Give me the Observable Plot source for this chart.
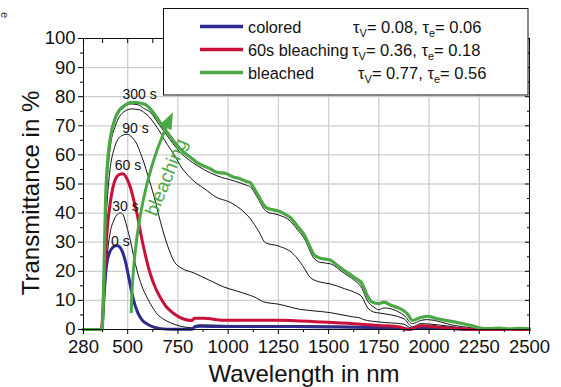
<!DOCTYPE html>
<html>
<head>
<meta charset="utf-8">
<script src="https://cdn.jsdelivr.net/npm/d3@7"></script>
<script src="https://cdn.jsdelivr.net/npm/@observablehq/plot@0.6"></script>
<style>
  html, body { margin: 0; padding: 0; background: #fff; }
  #chart { width: 561px; height: 387px; overflow: hidden; }
  svg { font-family: "Liberation Sans", Arial, sans-serif; }
</style>
</head>
<body>
<div id="chart"></div>
<script>
// ---------- data (wavelength in nm, transmittance in %) ----------
const blueWl = [280, 370, 376, 382, 390, 398, 410, 425, 444, 460, 475, 490, 505, 520, 535, 550, 570, 597, 630, 663, 720, 820, 832, 860, 1000, 1250, 1500, 1750, 1880, 1900, 1960, 2100, 2200, 2500];
const blueT  = [0, 0, 4, 11, 19, 23.5, 26.5, 28.2, 28.9, 28.4, 26.5, 23, 18, 12.8, 8.7, 5.8, 3.4, 1.9, 0.8, 0.3, 0.1, 0.1, 0.8, 1.1, 1.0, 1.0, 0.9, 0.6, 0.2, 0.1, 0.7, 0.4, 0, 0];

const b30Wl = [280, 370, 376, 382, 390, 400, 414, 430, 445, 464, 480, 495, 514, 530, 547, 570, 597, 620, 647, 680, 713, 760, 820, 832, 860, 1000, 1250, 1500, 1700, 1750, 1880, 1910, 1960, 2100, 2200, 2500];
const b30T  = [0, 0, 5, 12, 20, 27, 33.8, 37.3, 39.3, 40.1, 39, 35.5, 30.4, 25, 20.1, 15, 10.9, 8, 5.3, 3.5, 2.3, 1.2, 0.6, 1.3, 1.6, 1.4, 1.3, 1.2, 1.0, 0.9, 0.5, 0, 1.5, 0.6, 0, 0];

const redWl = [280, 370, 376, 382, 390, 400, 414, 439, 460, 476, 495, 514, 530, 547, 565, 580, 597, 613, 640, 663, 690, 713, 745, 778, 820, 832, 878, 978, 1250, 1458, 1625, 1750, 1860, 1900, 1960, 2100, 2250, 2500];
const redT  = [0, 0, 6, 15, 26, 36, 44, 51.7, 53.3, 53.5, 52, 48.7, 44.5, 39.6, 33, 28, 23, 19, 14, 10.9, 8, 6.4, 4.7, 3.6, 3.1, 3.9, 3.9, 3.2, 3.2, 2.6, 2.0, 1.4, 0.8, 0, 1.3, 0.4, 0, 0];

const b90Wl = [280, 370, 376, 382, 390, 400, 414, 430, 447, 470, 497, 515, 530, 547, 564, 580, 600, 630, 663, 700, 730, 770, 828, 862, 920, 978, 1040, 1094, 1130, 1177, 1250, 1360, 1458, 1508, 1625, 1650, 1675, 1750, 1875, 1917, 1958, 2125, 2220, 2500];
const b90T  = [0, 0, 5, 16, 34, 46, 56, 61.5, 64.8, 66.6, 67.1, 66.5, 65.4, 63.5, 60.5, 57.5, 53, 46, 37, 28.5, 23.5, 21, 19.5, 18.4, 16.5, 14.6, 13.3, 12.1, 11.2, 9.5, 8.7, 6.9, 6.2, 5.8, 4.3, 4.1, 3.4, 2.6, 1.8, 0.3, 1.4, 0.6, 0, 0];

const bMidWl = [280, 372, 377, 382, 390, 398, 414, 439, 481, 520, 558, 585, 608, 635, 657, 680, 697, 730, 770, 800, 829, 880, 945, 1000, 1060, 1111, 1150, 1186, 1250, 1327, 1370, 1410, 1458, 1508, 1580, 1625, 1667, 1692, 1725, 1750, 1875, 1917, 1958, 2125, 2220, 2500];
const bMidT  = [0, 0, 5, 18, 40, 51, 63, 70, 74.8, 75.8, 75.5, 74.4, 73, 70.5, 68.3, 65.5, 63.6, 60.2, 55.5, 53, 51, 48.5, 45.3, 44, 41.5, 38, 34, 29.8, 28.7, 25.8, 22, 17.8, 16.3, 15.7, 14, 12.9, 11.1, 7.7, 6, 5.7, 3.7, 0.9, 2, 0.9, 0, 0];

const b300Wl = [280, 372, 377, 382, 390, 398, 414, 439, 481, 514, 547, 580, 613, 657, 707, 757, 823, 878, 945, 1028, 1090, 1111, 1129, 1150, 1175, 1194, 1250, 1310, 1345, 1377, 1426, 1458, 1508, 1580, 1625, 1667, 1692, 1725, 1750, 1775, 1875, 1917, 1958, 1992, 2125, 2208, 2260, 2500];
const b300T  = [0, 0, 5.5, 19, 44, 55, 65.5, 72.3, 76.3, 77.5, 77.3, 76, 74.6, 70.4, 65.6, 61.2, 57.4, 55, 52.8, 51.1, 49.6, 49, 47.3, 44.8, 41.8, 40.4, 39.4, 37.2, 34.3, 31.5, 24.6, 23.1, 22.6, 19.2, 17.1, 14, 10, 7.7, 6.8, 7.4, 4.9, 2, 3.1, 3.4, 1.4, 0.6, 0, 0];

const greenWl = [280, 372, 377, 382, 390, 398, 414, 439, 460, 481, 514, 547, 572, 591, 613, 635, 657, 680, 707, 730, 757, 790, 823, 850, 878, 906, 945, 988, 1028, 1055, 1090, 1111, 1129, 1150, 1175, 1194, 1220, 1250, 1280, 1310, 1345, 1377, 1400, 1426, 1458, 1508, 1533, 1580, 1625, 1667, 1692, 1717, 1750, 1775, 1810, 1858, 1892, 1917, 1958, 1992, 2042, 2125, 2208, 2256, 2300, 2350, 2400, 2450, 2500];
const greenT  = [0, 0, 6, 20, 45, 56, 66, 72.8, 75.5, 76.8, 78, 78, 77.6, 77.2, 75.8, 73.8, 71.6, 69.3, 66.8, 64.6, 62.4, 60.3, 58.6, 57.2, 56.2, 55.4, 54, 53.6, 52.3, 51.9, 50.9, 50.4, 48.5, 46, 43, 41.7, 41.2, 40.7, 39.7, 38.4, 35.5, 32.7, 29.5, 25.8, 24.5, 23.9, 22.6, 20.2, 18, 15.7, 11.7, 9.4, 8.9, 9.4, 8.3, 7.1, 5.4, 3.1, 4.1, 4.5, 3.7, 2.6, 1.4, 0.5, 0.3, 0.5, 0.2, 0.4, 0.3];

const xTicks = [280, 500, 750, 1000, 1250, 1500, 1750, 2000, 2250, 2500];
const xMinor = [375, 625, 875, 1125, 1375, 1625, 1875, 2125, 2375];
const xGrid = [500, 750, 1000, 1250, 1500, 1750, 2000, 2250];
const yTicks = [0, 10, 20, 30, 40, 50, 60, 70, 80, 90, 100];
const yMinor = [5, 15, 25, 35, 45, 55, 65, 75, 85, 95];
const yGrid = [10, 20, 30, 40, 50, 60, 70, 80, 90];

const timeLabels = ["300 s", "90 s", "60 s", "30 s", "0 s"];
const timeLabelWl = [559, 539, 501, 489, 464];
const timeLabelT  = [80.9, 69.2, 56.5, 42.2, 30.4];

const legendNames = ["colored", "60s bleaching", "bleached"];
const legendTauV = ["0.08", "0.36", "0.77"];
const legendTauE = ["0.06", "0.18", "0.56"];

const BLUE = "#2e2a8e", RED = "#c8103a", GREEN = "#4ca846", GRID = "#cfcfcf";
const FONT = "'Liberation Sans', Arial, sans-serif";

const series = (wl, t) => wl.map((w, i) => ({w, t: t[i]}));
const lineOpts = (stroke, strokeWidth) => ({x: "w", y: "t", stroke, strokeWidth, curve: "monotone-x"});

const plot = Plot.plot({
  width: 561,
  height: 387,
  marginLeft: 83,
  marginRight: 32,
  marginTop: 38,
  marginBottom: 58,
  style: {fontFamily: FONT, background: "white", overflow: "visible"},
  x: {domain: [280, 2500], label: null},
  y: {domain: [0, 100], label: null},
  marks: [
    Plot.gridX(xGrid, {stroke: GRID, strokeOpacity: 1, strokeWidth: 1.3}),
    Plot.gridY(yGrid, {stroke: GRID, strokeOpacity: 1, strokeWidth: 1.3}),
    Plot.line(series(b30Wl, b30T), lineOpts("#111", 1)),
    Plot.line(series(b90Wl, b90T), lineOpts("#111", 1)),
    Plot.line(series(bMidWl, bMidT), lineOpts("#111", 1)),
    Plot.line(series(b300Wl, b300T), lineOpts("#111", 1)),
    Plot.line(series(blueWl, blueT), lineOpts(BLUE, 3)),
    Plot.line(series(redWl, redT), lineOpts(RED, 3)),
    Plot.line(series(greenWl, greenT), lineOpts(GREEN, 3.2)),
    Plot.text(timeLabels, {x: (d, i) => timeLabelWl[i], y: (d, i) => timeLabelT[i], text: d => d,
      fontSize: 14, fill: "#111", textAnchor: "middle", lineAnchor: "middle"}),
    Plot.frame({stroke: "#111", strokeWidth: 1}),
    Plot.axisX(xTicks, {tickSize: 5, tickPadding: 5, fontSize: 18.5, label: null, fill: "#111", tickFormat: d => String(d)}),
    Plot.axisX(xMinor, {tickSize: 3, text: null, label: null}),
    Plot.axisX(xTicks.concat(xMinor), {anchor: "top", tickSize: -4, text: null, label: null}),
    Plot.axisY(yTicks, {tickSize: 5, tickPadding: 3, fontSize: 18.5, label: null, fill: "#111", tickFormat: d => String(d)}),
    Plot.axisY(yMinor, {tickSize: 3, text: null, label: null}),
    Plot.axisY(yTicks, {anchor: "right", tickSize: -5, text: null, label: null}),
    Plot.axisY(yMinor, {anchor: "right", tickSize: -3, text: null, label: null})
  ]
});

document.getElementById("chart").appendChild(plot);

const svg = d3.select(plot);
const xs = plot.scale("x"), ys = plot.scale("y");
const X = v => xs.apply(v), Y = v => ys.apply(v);

// axis titles
svg.append("text").attr("x", 304).attr("y", 382).attr("text-anchor", "middle")
  .attr("font-size", 24).attr("fill", "#111").attr("font-family", FONT).text("Wavelength in nm");
svg.append("text").attr("transform", "translate(39,193) rotate(-90)").attr("text-anchor", "middle")
  .attr("font-size", 24).attr("fill", "#111").attr("font-family", FONT).text("Transmittance in %");

// small cut-off label at top-left
svg.append("text").attr("transform", "translate(1,15) rotate(90)").attr("text-anchor", "middle")
  .attr("font-size", 11).attr("fill", "#333").attr("font-family", FONT).text("e");

// bleaching arrow
const ax0 = X(520), ay0 = Y(5.5), ax2 = X(728), ay2 = Y(74.5);
const acx = X(535), acy = Y(47);
svg.append("path")
  .attr("d", `M${ax0},${ay0} Q${acx},${acy} ${ax2 - 3},${ay2 + 7}`)
  .attr("fill", "none").attr("stroke", GREEN).attr("stroke-width", 3);
{
  const ang = Math.atan2(ay2 - acy, ax2 - acx);
  const L = 17, W = 6.5;
  const bx = ax2 - L * Math.cos(ang), by = ay2 - L * Math.sin(ang);
  const px = -Math.sin(ang), py = Math.cos(ang);
  svg.append("path")
    .attr("d", `M${ax2},${ay2} L${bx + W * px},${by + W * py} L${bx - W * px},${by - W * py} Z`)
    .attr("fill", GREEN);
}
svg.append("text")
  .attr("transform", `translate(${X(700)},${Y(52)}) rotate(-67.5)`)
  .attr("text-anchor", "middle").attr("dominant-baseline", "middle")
  .attr("font-size", 19).attr("fill", GREEN).attr("font-family", FONT).text("bleaching");

// legend box
const lg = svg.append("g").attr("text-anchor", "start");
lg.append("rect").attr("x", 163.5).attr("y", 8.5).attr("width", 364.5).attr("height", 86.5)
  .attr("fill", "white").attr("stroke", "#111").attr("stroke-width", 1);
const legendColors = [BLUE, RED, GREEN];
const rowY = [26.5, 49.5, 72.5];
const tauX = [353, 352, 358];
legendNames.forEach((name, i) => {
  lg.append("line").attr("x1", 200).attr("x2", 243).attr("y1", rowY[i]).attr("y2", rowY[i])
    .attr("stroke", legendColors[i]).attr("stroke-width", 3.5);
  lg.append("text").attr("x", 248).attr("y", rowY[i] + 6).attr("font-size", 16.3)
    .attr("text-anchor", "start")
    .attr("fill", "#111").attr("font-family", FONT).text(name);
  const t = lg.append("text").attr("x", tauX[i]).attr("y", rowY[i] + 6).attr("font-size", 16.5)
    .attr("text-anchor", "start")
    .attr("fill", "#111").attr("font-family", FONT);
  t.append("tspan").text("τ");
  t.append("tspan").attr("font-size", 11).attr("dy", 4).text("V");
  t.append("tspan").attr("dy", -4).text("= " + legendTauV[i] + ", τ");
  t.append("tspan").attr("font-size", 11).attr("dy", 4).text("e");
  t.append("tspan").attr("dy", -4).text("= " + legendTauE[i]);
});
</script>
</body>
</html>
